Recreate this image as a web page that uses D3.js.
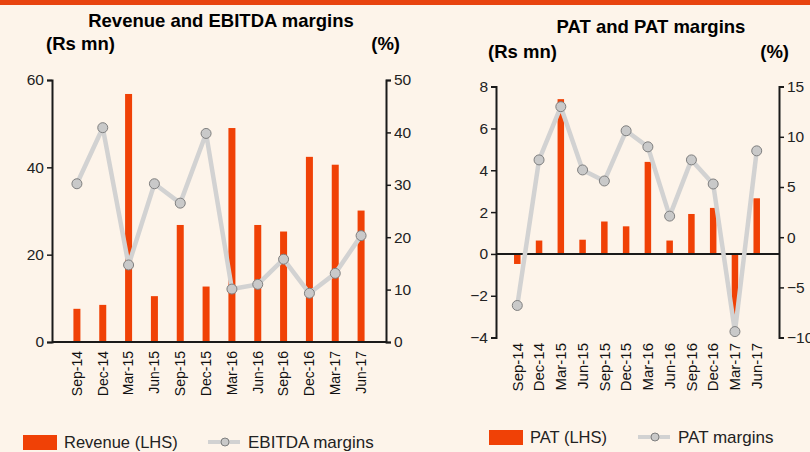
<!DOCTYPE html>
<html>
<head>
<meta charset="utf-8">
<script src="https://cdn.jsdelivr.net/npm/d3@7"></script>
<style>
  body { margin: 0; background: #fdf4ea; }
  svg { display: block; font-family: "Liberation Sans", Arial, sans-serif; }
</style>
</head>
<body>
<div id="chart"></div>
<script>
// quarters shared by both panels
const quarters = ["Sep-14", "Dec-14", "Mar-15", "Jun-15", "Sep-15", "Dec-15",
                  "Mar-16", "Jun-16", "Sep-16", "Dec-16", "Mar-17", "Jun-17"];

// Revenue (Rs mn) and EBITDA margins (%)
const revenue = [7.6, 8.5, 56.8, 10.5, 26.8, 12.7, 49.0, 26.8, 25.3, 42.4, 40.6, 30.1];
const ebitdaMargin = [30.2, 40.9, 14.7, 30.2, 26.5, 39.8, 10.1, 11.0, 15.8, 9.3, 13.1, 20.3];

// PAT (Rs mn) and PAT margins (%)
const pat = [-0.48, 0.64, 7.4, 0.68, 1.55, 1.32, 4.4, 0.64, 1.91, 2.2, -2.95, 2.66];
const patMargin = [-6.8, 7.7, 13.0, 6.7, 5.6, 10.6, 9.0, 2.1, 7.7, 5.3, -9.4, 8.6];

// tick labels
const revTicks = [0, 20, 40, 60];
const ebitdaTicks = [0, 10, 20, 30, 40, 50];
const patTicks = [-4, -2, 0, 2, 4, 6, 8];
const patMarginTicks = [-10, -5, 0, 5, 10, 15];

const width = 810;
const height = 452;
const barColor = "#f04106";
const lineColor = "#d2d2d2";
const axisColor = "#1a1a1a";

const svg = d3.select("#chart")
    .append("svg")
    .attr("width", width)
    .attr("height", height);

svg.append("rect")
    .attr("width", width)
    .attr("height", height)
    .attr("fill", "#fdf4ea");

// orange band across the top
svg.append("rect")
    .attr("width", width)
    .attr("height", 5)
    .attr("fill", "#e8440f");

function drawPanel(p) {
    const g = svg.append("g");

    const x = d3.scaleBand()
        .domain(quarters)
        .range(p.xRange);

    const yL = d3.scaleLinear().domain(p.leftDomain).range(p.yRange);
    const yR = d3.scaleLinear().domain(p.rightDomain).range(p.yRange);

    const left = p.xRange[0] - p.padL;
    const right = p.xRange[1] + p.padR;

    // titles
    g.append("text")
        .attr("x", p.titleX)
        .attr("y", p.titleY)
        .attr("text-anchor", "middle")
        .style("font-weight", "bold")
        .style("font-size", "18.5px")
        .text(p.title);

    g.append("text")
        .attr("x", p.unitLX)
        .attr("y", p.unitY)
        .style("font-weight", "bold")
        .style("font-size", "18.5px")
        .text("(Rs mn)");

    g.append("text")
        .attr("x", p.unitRX)
        .attr("y", p.unitY)
        .attr("text-anchor", "end")
        .style("font-weight", "bold")
        .style("font-size", "18.5px")
        .text("(%)");

    // bars
    g.selectAll(".bar")
        .data(p.bars)
        .enter()
        .append("rect")
        .attr("class", "bar")
        .attr("x", (d, i) => x(quarters[i]) + x.bandwidth() / 2 - p.barW / 2)
        .attr("width", p.barW)
        .attr("y", d => Math.min(yL(d), yL(0)))
        .attr("height", d => Math.abs(yL(d) - yL(0)))
        .attr("fill", barColor);

    // zero line
    g.append("line")
        .attr("x1", left)
        .attr("x2", right)
        .attr("y1", yL(0))
        .attr("y2", yL(0))
        .attr("stroke", axisColor)
        .attr("stroke-width", 2);

    // margin line
    const line = d3.line()
        .x((d, i) => x(quarters[i]) + x.bandwidth() / 2)
        .y(d => yR(d));

    g.append("path")
        .datum(p.line)
        .attr("d", line)
        .attr("fill", "none")
        .attr("stroke", lineColor)
        .attr("stroke-width", 4.5)
        .attr("stroke-linejoin", "round");

    g.selectAll(".dot")
        .data(p.line)
        .enter()
        .append("circle")
        .attr("cx", (d, i) => x(quarters[i]) + x.bandwidth() / 2)
        .attr("cy", d => yR(d))
        .attr("r", 5)
        .attr("fill", "#c9c9c9")
        .attr("stroke", "#7f7f7f")
        .attr("stroke-width", 1);

    // axes
    const axL = g.append("g")
        .attr("transform", `translate(${left},0)`)
        .call(d3.axisLeft(yL).tickValues(p.leftTicks).tickSize(5).tickSizeOuter(5));
    const axR = g.append("g")
        .attr("transform", `translate(${right},0)`)
        .call(d3.axisRight(yR).tickValues(p.rightTicks).tickSize(5).tickSizeOuter(5));

    [axL, axR].forEach(ax => {
        ax.select(".domain").attr("stroke", axisColor).attr("stroke-width", 2);
        ax.selectAll(".tick line").attr("stroke", axisColor).attr("stroke-width", 1.5);
        ax.selectAll(".tick text")
            .style("font-size", p.tickFont)
            .style("font-family", "'Liberation Sans', Arial, sans-serif")
            .attr("fill", "#222");
    });

    // rotated category labels
    g.selectAll(".xlab")
        .data(quarters)
        .enter()
        .append("text")
        .attr("transform", d => `translate(${x(d) + x.bandwidth() / 2},${p.labelY}) rotate(-90)`)
        .attr("dy", "0.35em")
        .attr("text-anchor", "end")
        .style("font-size", p.labelFont)
        .attr("fill", "#111")
        .text(d => d);

    // legend
    const lg = g.append("g").attr("transform", `translate(${p.legendX},${p.legendY})`);
    lg.append("rect")
        .attr("x", 0)
        .attr("y", -7)
        .attr("width", 34)
        .attr("height", 15)
        .attr("fill", barColor);
    lg.append("text")
        .attr("x", 41)
        .attr("y", 0)
        .attr("dy", "0.35em")
        .style("font-size", "16.5px")
        .attr("fill", "#222")
        .text(p.barName);
    lg.append("line")
        .attr("x1", p.lineLegendX)
        .attr("x2", p.lineLegendX + 32)
        .attr("y1", 0)
        .attr("y2", 0)
        .attr("stroke", lineColor)
        .attr("stroke-width", 4);
    lg.append("circle")
        .attr("cx", p.lineLegendX + 17)
        .attr("cy", 0)
        .attr("r", 4)
        .attr("fill", "#c9c9c9")
        .attr("stroke", "#7f7f7f");
    lg.append("text")
        .attr("x", p.lineLegendX + 40)
        .attr("y", 0)
        .attr("dy", "0.35em")
        .style("font-size", "17px")
        .attr("fill", "#222")
        .text(p.lineName);
}

drawPanel({
    title: "Revenue and EBITDA margins",
    titleX: 221, titleY: 27,
    unitLX: 46, unitRX: 400, unitY: 50,
    xRange: [64, 374], padL: 12, padR: 12,
    yRange: [342, 80],
    leftDomain: [0, 60], rightDomain: [0, 50],
    leftTicks: revTicks, rightTicks: ebitdaTicks,
    bars: revenue, line: ebitdaMargin, barW: 7,
    tickFont: "15.5px", labelFont: "14px", labelY: 351,
    legendX: 23, legendY: 442, lineLegendX: 185,
    barName: "Revenue (LHS)", lineName: "EBITDA margins"
});

drawPanel({
    title: "PAT and PAT margins",
    titleX: 651, titleY: 33,
    unitLX: 488, unitRX: 789, unitY: 58,
    xRange: [506.4, 767.6], padL: 10.4, padR: 11.4,
    yRange: [337.6, 86.6],
    leftDomain: [-4, 8], rightDomain: [-10, 15],
    leftTicks: patTicks, rightTicks: patMarginTicks,
    bars: pat, line: patMargin, barW: 6.5,
    tickFont: "15.5px", labelFont: "15px", labelY: 343,
    legendX: 489, legendY: 437, lineLegendX: 149,
    barName: "PAT (LHS)", lineName: "PAT margins"
});
</script>
</body>
</html>
